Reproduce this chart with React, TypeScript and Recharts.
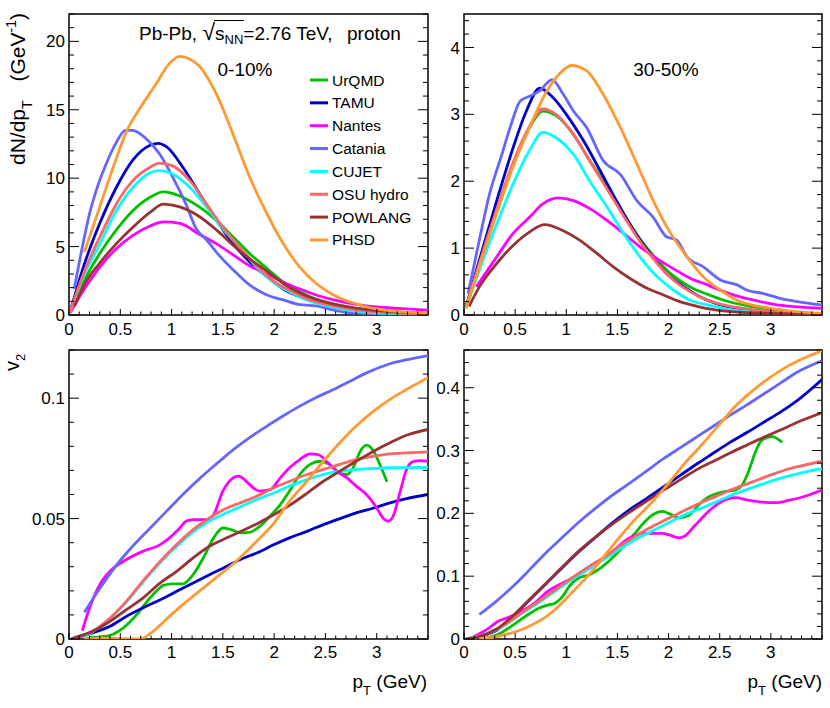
import { LineChart, Line, XAxis, YAxis, ReferenceArea } from 'recharts'

type Pt = [number, number]

const FONT = '"Liberation Sans", Arial, Helvetica, sans-serif'

// models in legend / drawing order
const models = ['UrQMD', 'TAMU', 'Nantes', 'Catania', 'CUJET', 'OSU hydro', 'POWLANG', 'PHSD']
const colors = ['#00c000', '#0000cc', '#ff00ff', '#6666ff', '#00ffff', '#ff6666', '#993333', '#ff9933']

const xMajor = [0, 0.5, 1, 1.5, 2, 2.5, 3]
const xMajorLabels = ['0', '0.5', '1', '1.5', '2', '2.5', '3']

const specMajor010 = [0, 5, 10, 15, 20]
const specLabels010 = ['0', '5', '10', '15', '20']
const specMajor3050 = [0, 1, 2, 3, 4]
const specLabels3050 = ['0', '1', '2', '3', '4']
const v2Major010 = [0, 0.05, 0.1]
const v2Labels010 = ['0', '0.05', '0.1']
const v2Major3050 = [0, 0.1, 0.2, 0.3, 0.4]
const v2Labels3050 = ['0', '0.1', '0.2', '0.3', '0.4']

// dN/dpT, 0-10%
const urqmdSpec010: Pt[] = [[0.02,0.4],[0.14,2.4],[0.3,4.5],[0.46,6.2],[0.62,7.6],[0.79,8.6],[0.92,9.0],[1.08,8.7],[1.27,7.9],[1.44,6.9],[1.6,5.7],[1.76,4.5],[1.93,3.4],[2.09,2.4],[2.25,1.7],[2.41,1.14],[2.58,0.8],[2.9,0.36],[3.2,0.2],[3.5,0.12]]
const tamuSpec010: Pt[] = [[0.01,0.2],[0.14,3.5],[0.3,6.7],[0.46,9.3],[0.62,11.3],[0.79,12.4],[0.87,12.55],[0.95,12.3],[1.11,10.8],[1.27,8.9],[1.44,6.9],[1.6,5.2],[1.76,3.9],[1.93,2.8],[2.09,1.9],[2.25,1.33],[2.58,0.6],[2.9,0.24],[3.5,0.07]]
const nantesSpec010: Pt[] = [[0.01,0.15],[0.14,1.8],[0.3,3.5],[0.46,4.85],[0.62,5.8],[0.79,6.5],[0.92,6.8],[1.08,6.7],[1.27,5.9],[1.44,5.2],[1.6,4.4],[1.76,3.6],[1.93,3.0],[2.09,2.4],[2.25,1.9],[2.41,1.46],[2.58,1.1],[2.9,0.66],[3.2,0.48],[3.5,0.36]]
const cataniaSpec010: Pt[] = [[0.05,1.9],[0.12,4.6],[0.2,7.4],[0.27,9.2],[0.36,11.0],[0.46,12.6],[0.55,13.5],[0.62,13.5],[0.75,12.9],[0.88,11.8],[1.01,10.1],[1.14,8.1],[1.24,6.3],[1.34,5.5],[1.47,4.3],[1.6,3.3],[1.76,2.2],[1.93,1.46],[2.09,1.1],[2.25,0.75],[2.41,0.66],[2.58,0.36],[2.74,0.17],[2.9,0.12],[3.2,0.07],[3.5,0.05]]
const cujetSpec010: Pt[] = [[0.01,0.2],[0.14,2.8],[0.3,5.2],[0.46,7.6],[0.62,9.3],[0.79,10.4],[0.88,10.55],[1.01,10.3],[1.18,9.3],[1.34,7.9],[1.5,6.3],[1.67,4.9],[1.83,3.5],[1.99,2.4],[2.15,1.7],[2.32,1.1],[2.58,0.56],[2.9,0.2],[3.5,0.05]]
const osuSpec010: Pt[] = [[0.01,0.2],[0.14,3.0],[0.3,5.7],[0.46,8.1],[0.62,9.8],[0.79,10.8],[0.88,11.1],[1.01,10.9],[1.18,9.8],[1.34,8.1],[1.5,6.4],[1.67,4.9],[1.83,3.6],[1.99,2.5],[2.15,1.8],[2.32,1.2],[2.58,0.66],[2.9,0.29],[3.5,0.07]]
const powlangSpec010: Pt[] = [[0.055,0.65],[0.14,2.1],[0.3,3.8],[0.46,5.2],[0.62,6.4],[0.79,7.5],[0.92,8.1],[1.08,7.9],[1.27,7.2],[1.44,6.2],[1.6,5.1],[1.76,4.1],[1.93,3.2],[2.09,2.3],[2.25,1.6],[2.41,1.14],[2.58,0.8],[2.9,0.41],[3.5,0.12]]
const phsdSpec010: Pt[] = [[0.15,4.6],[0.3,7.9],[0.45,11.2],[0.56,13.4],[0.7,15.2],[0.85,16.9],[0.97,18.3],[1.08,18.9],[1.18,18.7],[1.27,18.2],[1.44,16.1],[1.6,13.2],[1.76,10.1],[1.93,7.4],[2.09,5.2],[2.25,3.5],[2.41,2.3],[2.58,1.46],[2.9,0.6],[3.23,0.24],[3.5,0.12]]

// dN/dpT, 30-50%
const urqmdSpec3050: Pt[] = [[0.02,0.12],[0.15,0.77],[0.32,1.56],[0.48,2.26],[0.64,2.8],[0.77,3.05],[0.9,2.98],[1.07,2.7],[1.23,2.31],[1.4,1.91],[1.56,1.51],[1.72,1.14],[1.89,0.82],[2.05,0.58],[2.21,0.42],[2.38,0.31],[2.54,0.22],[2.8,0.13],[3.13,0.07]]
const tamuSpec3050: Pt[] = [[0.02,0.12],[0.15,0.82],[0.32,1.71],[0.48,2.5],[0.61,3.05],[0.74,3.39],[0.87,3.25],[1.0,3.0],[1.17,2.6],[1.33,2.16],[1.49,1.71],[1.66,1.26],[1.82,0.92],[1.98,0.62],[2.15,0.42],[2.31,0.27],[2.47,0.17],[2.8,0.07],[3.5,0.015]]
const nantesSpec3050: Pt[] = [[0.12,0.42],[0.2,0.6],[0.32,0.87],[0.48,1.22],[0.64,1.46],[0.77,1.66],[0.92,1.75],[1.07,1.71],[1.23,1.59],[1.4,1.41],[1.56,1.22],[1.72,1.02],[1.89,0.84],[2.05,0.69],[2.21,0.55],[2.38,0.45],[2.54,0.35],[2.7,0.27],[2.87,0.21],[3.03,0.16],[3.26,0.12],[3.5,0.1]]
const cataniaSpec3050: Pt[] = [[0.04,0.32],[0.15,1.12],[0.25,1.81],[0.37,2.4],[0.45,2.8],[0.55,3.2],[0.64,3.27],[0.74,3.35],[0.86,3.52],[0.97,3.3],[1.07,3.05],[1.2,2.8],[1.36,2.31],[1.53,2.1],[1.69,1.71],[1.85,1.46],[1.98,1.17],[2.08,1.12],[2.18,0.87],[2.34,0.72],[2.51,0.52],[2.67,0.45],[2.77,0.37],[2.93,0.32],[3.09,0.25],[3.26,0.2],[3.5,0.15]]
const cujetSpec3050: Pt[] = [[0.02,0.1],[0.15,0.67],[0.32,1.36],[0.48,1.96],[0.64,2.46],[0.77,2.73],[0.9,2.65],[1.07,2.4],[1.23,2.0],[1.4,1.61],[1.56,1.22],[1.72,0.87],[1.89,0.57],[2.05,0.37],[2.21,0.22],[2.38,0.15],[2.7,0.06],[3.5,0.015]]
const osuSpec3050: Pt[] = [[0.02,0.12],[0.15,0.77],[0.32,1.58],[0.48,2.28],[0.64,2.82],[0.77,3.08],[0.9,3.0],[1.07,2.7],[1.23,2.3],[1.4,1.88],[1.56,1.48],[1.72,1.1],[1.89,0.77],[2.05,0.52],[2.21,0.35],[2.38,0.22],[2.54,0.15],[2.87,0.07],[3.5,0.015]]
const powlangSpec3050: Pt[] = [[0.05,0.13],[0.15,0.42],[0.32,0.77],[0.48,1.04],[0.64,1.24],[0.79,1.35],[0.97,1.26],[1.13,1.12],[1.3,0.92],[1.46,0.72],[1.62,0.55],[1.79,0.4],[1.95,0.3],[2.11,0.2],[2.28,0.13],[2.44,0.08],[2.77,0.035],[3.5,0.01]]
const phsdSpec3050: Pt[] = [[0.02,0.1],[0.15,0.72],[0.32,1.52],[0.48,2.22],[0.64,2.8],[0.81,3.35],[0.93,3.6],[1.05,3.73],[1.2,3.65],[1.36,3.3],[1.53,2.8],[1.69,2.26],[1.85,1.71],[2.02,1.22],[2.18,0.87],[2.34,0.57],[2.51,0.37],[2.67,0.22],[3.0,0.1],[3.5,0.025]]

// v2, 0-10%
const urqmdV2010: Pt[] = [[0.2,0.0007],[0.33,0.001],[0.43,0.002],[0.53,0.0046],[0.66,0.0101],[0.75,0.015],[0.85,0.0198],[0.92,0.0223],[1.01,0.0229],[1.11,0.0229],[1.21,0.0267],[1.31,0.0337],[1.41,0.042],[1.5,0.0461],[1.58,0.0454],[1.67,0.0441],[1.76,0.0443],[1.86,0.0468],[1.96,0.051],[2.06,0.0558],[2.15,0.0614],[2.25,0.0683],[2.35,0.0725],[2.45,0.0738],[2.54,0.0725],[2.64,0.069],[2.71,0.0683],[2.77,0.0711],[2.84,0.078],[2.9,0.0805],[2.97,0.078],[3.03,0.0725],[3.1,0.0653]]
const tamuV2010: Pt[] = [[0.02,0.0],[0.23,0.0025],[0.4,0.0053],[0.56,0.0094],[0.72,0.0129],[0.89,0.0163],[1.05,0.0198],[1.21,0.0233],[1.37,0.0267],[1.54,0.0302],[1.67,0.033],[1.83,0.0357],[2.0,0.0392],[2.15,0.042],[2.32,0.0447],[2.48,0.0475],[2.64,0.05],[2.8,0.0524],[2.97,0.0544],[3.13,0.0565],[3.29,0.0583],[3.5,0.06]]
const nantesV2010: Pt[] = [[0.13,0.0035],[0.2,0.0129],[0.3,0.0226],[0.4,0.0281],[0.56,0.033],[0.72,0.0364],[0.89,0.0392],[0.98,0.042],[1.08,0.0461],[1.14,0.0489],[1.21,0.0496],[1.34,0.0496],[1.41,0.0517],[1.5,0.0614],[1.6,0.0669],[1.65,0.0676],[1.71,0.0662],[1.76,0.0641],[1.86,0.0614],[1.96,0.062],[2.06,0.0669],[2.15,0.0711],[2.25,0.0745],[2.35,0.0769],[2.43,0.0766],[2.51,0.0738],[2.61,0.0697],[2.71,0.0669],[2.8,0.0635],[2.9,0.06],[3.0,0.0544],[3.06,0.0503],[3.11,0.0489],[3.16,0.051],[3.23,0.0614],[3.29,0.0704],[3.36,0.0738],[3.42,0.0741],[3.5,0.0738]]
const cataniaV2010: Pt[] = [[0.15,0.0111],[0.3,0.021],[0.46,0.0305],[0.62,0.0385],[0.79,0.046],[0.95,0.053],[1.11,0.06],[1.27,0.0665],[1.44,0.0728],[1.6,0.0785],[1.76,0.0836],[1.93,0.0884],[2.09,0.0927],[2.25,0.0967],[2.41,0.1003],[2.58,0.1036],[2.74,0.107],[2.9,0.1105],[3.13,0.1143],[3.3,0.116],[3.5,0.1177]]
const cujetV2010: Pt[] = [[0.15,0.001],[0.23,0.003],[0.4,0.0085],[0.56,0.0153],[0.72,0.0235],[0.89,0.0317],[1.05,0.0385],[1.21,0.0445],[1.37,0.049],[1.54,0.0525],[1.665,0.0548],[1.83,0.0579],[2.0,0.0607],[2.15,0.0635],[2.32,0.0662],[2.48,0.0683],[2.64,0.0697],[2.8,0.0704],[2.97,0.0708],[3.13,0.0711],[3.5,0.0713]]
const osuV2010: Pt[] = [[0.04,0.0002],[0.23,0.0032],[0.4,0.0087],[0.56,0.0157],[0.72,0.024],[0.89,0.0323],[1.05,0.0392],[1.21,0.0454],[1.37,0.0503],[1.54,0.0544],[1.665,0.0565],[1.83,0.0593],[2.0,0.0628],[2.15,0.0655],[2.32,0.0683],[2.48,0.0704],[2.64,0.0725],[2.8,0.0745],[2.97,0.0759],[3.13,0.0769],[3.29,0.0773],[3.5,0.0777]]
const powlangV2010: Pt[] = [[0.04,0.0004],[0.23,0.0032],[0.4,0.0073],[0.56,0.0122],[0.72,0.017],[0.89,0.0233],[1.05,0.0281],[1.21,0.0337],[1.37,0.0385],[1.54,0.042],[1.665,0.0445],[1.83,0.0478],[2.0,0.0517],[2.15,0.0555],[2.32,0.0605],[2.48,0.0655],[2.64,0.0697],[2.8,0.0738],[2.97,0.078],[3.13,0.0815],[3.29,0.0846],[3.5,0.087]]
const phsdV2010: Pt[] = [[0.15,0.0003],[0.3,0.0004],[0.45,0.0002],[0.6,0.0],[0.69,0.0],[0.82,0.0032],[0.98,0.0094],[1.15,0.0157],[1.31,0.0212],[1.47,0.0267],[1.63,0.0323],[1.83,0.0406],[2.0,0.0482],[2.15,0.0572],[2.32,0.0655],[2.48,0.0738],[2.64,0.0815],[2.8,0.0884],[2.97,0.0946],[3.13,0.0995],[3.29,0.1036],[3.5,0.1085]]

// v2, 30-50%
const urqmdV23050: Pt[] = [[0.2,0.0005],[0.33,0.007],[0.46,0.02],[0.6,0.036],[0.73,0.049],[0.82,0.054],[0.89,0.057],[0.95,0.065],[1.04,0.086],[1.12,0.097],[1.22,0.102],[1.31,0.11],[1.41,0.123],[1.54,0.144],[1.67,0.168],[1.77,0.187],[1.87,0.2],[1.94,0.203],[2.0,0.2],[2.1,0.193],[2.2,0.197],[2.29,0.213],[2.39,0.226],[2.52,0.234],[2.65,0.237],[2.72,0.245],[2.78,0.266],[2.85,0.298],[2.91,0.316],[3.01,0.322],[3.11,0.313]]
const tamuV23050: Pt[] = [[0.02,0.0],[0.15,0.004],[0.32,0.014],[0.48,0.036],[0.64,0.062],[0.81,0.089],[0.97,0.115],[1.13,0.14],[1.3,0.164],[1.46,0.186],[1.62,0.206],[1.79,0.224],[1.95,0.242],[2.11,0.26],[2.28,0.279],[2.44,0.296],[2.6,0.313],[2.77,0.329],[2.93,0.345],[3.1,0.362],[3.26,0.38],[3.5,0.413]]
const nantesV23050: Pt[] = [[0.1,0.004],[0.24,0.017],[0.33,0.028],[0.43,0.034],[0.56,0.044],[0.69,0.057],[0.82,0.076],[0.95,0.088],[1.12,0.102],[1.28,0.118],[1.45,0.139],[1.61,0.16],[1.77,0.168],[1.94,0.168],[2.0,0.166],[2.1,0.161],[2.16,0.164],[2.26,0.181],[2.39,0.203],[2.52,0.219],[2.65,0.225],[2.78,0.221],[2.91,0.218],[3.05,0.217],[3.18,0.221],[3.31,0.226],[3.5,0.237]]
const cataniaV23050: Pt[] = [[0.15,0.039],[0.3,0.058],[0.48,0.084],[0.64,0.11],[0.8,0.137],[0.97,0.163],[1.13,0.187],[1.3,0.21],[1.46,0.23],[1.62,0.248],[1.79,0.268],[1.95,0.287],[2.12,0.305],[2.28,0.322],[2.44,0.339],[2.6,0.356],[2.77,0.373],[2.93,0.39],[3.1,0.408],[3.26,0.425],[3.5,0.443]]
const cujetV23050: Pt[] = [[0.02,0.0],[0.24,0.009],[0.4,0.022],[0.56,0.04],[0.73,0.058],[0.89,0.076],[1.05,0.094],[1.22,0.112],[1.38,0.128],[1.54,0.145],[1.67,0.158],[1.84,0.172],[2.0,0.185],[2.16,0.198],[2.33,0.209],[2.49,0.22],[2.65,0.231],[2.82,0.241],[2.98,0.25],[3.14,0.258],[3.31,0.265],[3.5,0.271]]
const osuV23050: Pt[] = [[0.02,0.0],[0.24,0.0095],[0.4,0.0228],[0.56,0.0413],[0.73,0.0598],[0.89,0.0783],[1.05,0.0968],[1.22,0.1153],[1.38,0.1312],[1.54,0.1497],[1.67,0.163],[1.84,0.179],[2.0,0.192],[2.16,0.205],[2.33,0.218],[2.49,0.229],[2.65,0.24],[2.82,0.25],[2.98,0.26],[3.14,0.269],[3.31,0.276],[3.5,0.283]]
const powlangV23050: Pt[] = [[0.02,0.0],[0.15,0.004],[0.32,0.016],[0.48,0.037],[0.64,0.063],[0.81,0.09],[0.97,0.116],[1.13,0.141],[1.3,0.164],[1.46,0.184],[1.62,0.202],[1.79,0.22],[1.95,0.237],[2.12,0.254],[2.28,0.27],[2.44,0.283],[2.6,0.296],[2.77,0.309],[2.93,0.321],[3.1,0.333],[3.26,0.345],[3.5,0.36]]
const phsdV23050: Pt[] = [[0.15,0.0],[0.24,0.0016],[0.4,0.0069],[0.56,0.0148],[0.73,0.028],[0.89,0.0466],[1.05,0.073],[1.22,0.1021],[1.38,0.1339],[1.54,0.1656],[1.67,0.19],[1.84,0.218],[2.0,0.248],[2.16,0.28],[2.33,0.31],[2.49,0.34],[2.65,0.37],[2.82,0.395],[2.98,0.415],[3.14,0.432],[3.31,0.446],[3.5,0.459]]

const X_MAX = 3.5

function steps(max: number, step: number) {
  const n = Math.floor(max / step + 1e-9)
  return Array.from({ length: n + 1 }, (_, i) => +(i * step).toFixed(6))
}

function majorIndex(list: number[], v: number) {
  return list.findIndex(m => Math.abs(m - v) < 1e-9)
}

function XTick(props: any) {
  const { x, y, payload, labelDy } = props
  const idx = majorIndex(xMajor, payload.value)
  const len = idx >= 0 ? 6 : 3.5
  return (
    <g>
      <line x1={x} x2={x} y1={y} y2={y - len} stroke="#000" strokeWidth={1} />
      {idx >= 0 && (
        <text x={x} y={y + labelDy} textAnchor="middle" fontSize={17} fontFamily={FONT} fill="#000">
          {xMajorLabels[idx]}
        </text>
      )}
    </g>
  )
}

function YTick(props: any) {
  const { x, y, payload, plotW, majors, labels } = props
  const idx = majorIndex(majors, payload.value)
  const len = idx >= 0 ? 10 : 5
  return (
    <g>
      <line x1={x} x2={x + len} y1={y} y2={y} stroke="#000" strokeWidth={1} />
      <line x1={x + plotW} x2={x + plotW - len} y1={y} y2={y} stroke="#000" strokeWidth={1} />
      {idx >= 0 && (
        <text x={x - 4} y={y} dy="0.36em" textAnchor="end" fontSize={17} fontFamily={FONT} fill="#000">
          {labels[idx]}
        </text>
      )}
    </g>
  )
}

interface PanelProps {
  left: number
  top: number
  width: number
  height: number
  yw: number
  mt: number
  mr: number
  plotH: number
  yMax: number
  yStep: number
  majors: number[]
  labels: string[]
  labelDy: number
  series: Pt[][]
}

function Panel({ left, top, width, height, yw, mt, mr, plotH, yMax, yStep, majors, labels, labelDy, series }: PanelProps) {
  const plotW = width - yw - mr
  const xh = height - mt - plotH
  return (
    <div style={{ position: 'absolute', left, top }}>
      <LineChart width={width} height={height} margin={{ top: mt, right: mr, bottom: 0, left: 0 }}>
        <XAxis
          type="number"
          dataKey="x"
          domain={[0, X_MAX]}
          ticks={steps(X_MAX, 0.1)}
          interval={0}
          allowDataOverflow
          height={xh}
          axisLine={false}
          tickLine={false}
          tickSize={0}
          tickMargin={0}
          tick={(p: any) => <XTick {...p} labelDy={labelDy} />}
        />
        <YAxis
          type="number"
          domain={[0, yMax]}
          ticks={steps(yMax, yStep)}
          interval={0}
          allowDataOverflow
          width={yw}
          axisLine={false}
          tickLine={false}
          tickSize={0}
          tickMargin={0}
          tick={(p: any) => <YTick {...p} plotW={plotW} majors={majors} labels={labels} />}
        />
        <ReferenceArea x1={0} x2={X_MAX} y1={0} y2={yMax} fill="none" stroke="#000" strokeWidth={1.5} />
        {series.map((pts, i) => (
          <Line
            key={models[i]}
            data={pts.map(([x, y]) => ({ x, y }))}
            dataKey="y"
            type="monotone"
            stroke={colors[i]}
            strokeWidth={2.8}
            dot={false}
            isAnimationActive={false}
          />
        ))}
      </LineChart>
    </div>
  )
}

export default function App() {
  const legendTop = 80
  return (
    <div style={{ position: 'absolute', left: 0, top: 0, width: 830, height: 708, background: '#fff', fontFamily: FONT }}>
      <Panel left={0} top={0} width={435} height={345} yw={69} mt={14} mr={7} plotH={301} yMax={22} yStep={1}
        majors={specMajor010} labels={specLabels010} labelDy={20}
        series={[urqmdSpec010, tamuSpec010, nantesSpec010, cataniaSpec010, cujetSpec010, osuSpec010, powlangSpec010, phsdSpec010]} />
      <Panel left={437} top={0} width={393} height={345} yw={27} mt={14} mr={8} plotH={301} yMax={4.5} yStep={0.2}
        majors={specMajor3050} labels={specLabels3050} labelDy={20}
        series={[urqmdSpec3050, tamuSpec3050, nantesSpec3050, cataniaSpec3050, cujetSpec3050, osuSpec3050, powlangSpec3050, phsdSpec3050]} />
      <Panel left={0} top={345} width={435} height={363} yw={69} mt={5} mr={7} plotH={289} yMax={0.12} yStep={0.01}
        majors={v2Major010} labels={v2Labels010} labelDy={19}
        series={[urqmdV2010, tamuV2010, nantesV2010, cataniaV2010, cujetV2010, osuV2010, powlangV2010, phsdV2010]} />
      <Panel left={437} top={345} width={393} height={363} yw={27} mt={5} mr={8} plotH={289} yMax={0.46} yStep={0.02}
        majors={v2Major3050} labels={v2Labels3050} labelDy={19}
        series={[urqmdV23050, tamuV23050, nantesV23050, cataniaV23050, cujetV23050, osuV23050, powlangV23050, phsdV23050]} />

      <svg width={830} height={708} style={{ position: 'absolute', left: 0, top: 0, pointerEvents: 'none' }} fontFamily={FONT} fill="#000">
        <text x={139} y={40} fontSize={19}>
          Pb-Pb, <tspan fontSize={23}>√</tspan>s<tspan dy={4} fontSize={13}>NN</tspan><tspan dy={-4}>=2.76 TeV,</tspan><tspan x={347}>proton</tspan>
        </text>
        <line x1={214} x2={244} y1={20.5} y2={20.5} stroke="#000" strokeWidth={1} />
        <text x={245} y={76} fontSize={19} textAnchor="middle">0-10%</text>
        <text x={666} y={76} fontSize={19} textAnchor="middle">30-50%</text>

        <text transform="translate(25,165) rotate(-90)" fontSize={21}>
          dN/dp<tspan dy={7} fontSize={14}>T</tspan>
        </text>
        <text transform="translate(25,13) rotate(-90)" fontSize={21} textAnchor="end">
          (GeV<tspan dy={-9} fontSize={14}>-1</tspan><tspan dy={9}>)</tspan>
        </text>
        <text transform="translate(19,371) rotate(-90)" fontSize={20}>
          v<tspan dy={6} fontSize={13}>2</tspan>
        </text>
        <text x={427} y={688} fontSize={19} textAnchor="end">
          p<tspan dy={7} fontSize={13}>T</tspan><tspan dy={-7}> (GeV)</tspan>
        </text>
        <text x={822} y={688} fontSize={19} textAnchor="end">
          p<tspan dy={7} fontSize={13}>T</tspan><tspan dy={-7}> (GeV)</tspan>
        </text>

        {models.map((m, i) => (
          <g key={m}>
            <line x1={310} x2={328} y1={legendTop + i * 22.85} y2={legendTop + i * 22.85} stroke={colors[i]} strokeWidth={3} />
            <text x={332} y={legendTop + i * 22.85 + 5.5} fontSize={15.5}>{m}</text>
          </g>
        ))}
      </svg>
    </div>
  )
}
